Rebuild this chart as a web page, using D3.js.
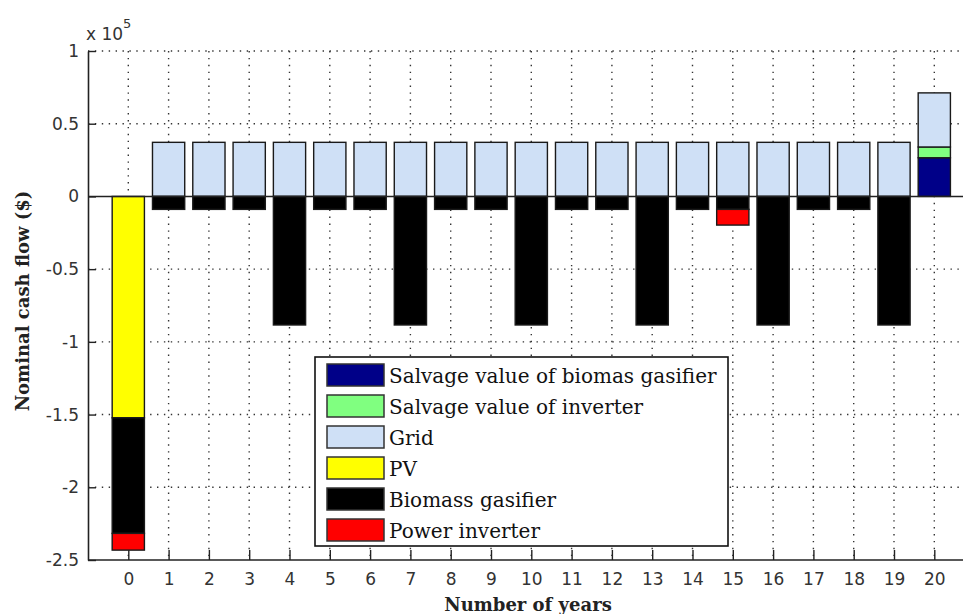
<!DOCTYPE html>
<html>
<head>
<meta charset="utf-8">
<script src="https://cdn.jsdelivr.net/npm/d3@7"></script>
<style>
  html, body { margin: 0; padding: 0; background: #fff; }
  svg { display: block; }
</style>
</head>
<body>
<svg id="chart" width="963" height="614"></svg>
<script>
// Nominal cash flow by year and cost component (US$)
const years = [0, 1, 2, 3, 4, 5, 6, 7, 8, 9, 10, 11, 12, 13, 14, 15, 16, 17, 18, 19, 20];
const salvageBiomass  = [0, 0, 0, 0, 0, 0, 0, 0, 0, 0, 0, 0, 0, 0, 0, 0, 0, 0, 0, 0, 26600];
const salvageInverter = [0, 0, 0, 0, 0, 0, 0, 0, 0, 0, 0, 0, 0, 0, 0, 0, 0, 0, 0, 0, 7400];
const gridFlow = [0, 37200, 37200, 37200, 37200, 37200, 37200, 37200, 37200, 37200, 37200,
                  37200, 37200, 37200, 37200, 37200, 37200, 37200, 37200, 37200, 37200];
const pvFlow = [-152200, 0, 0, 0, 0, 0, 0, 0, 0, 0, 0, 0, 0, 0, 0, 0, 0, 0, 0, 0, 0];
const biomassFlow = [-79500, -8900, -8900, -8900, -88400, -8900, -8900, -88400, -8900, -8900, -88400,
                     -8900, -8900, -88400, -8900, -8900, -88400, -8900, -8900, -88400, 0];
const inverterFlow = [-11500, 0, 0, 0, 0, 0, 0, 0, 0, 0, 0, 0, 0, 0, 0, -10800, 0, 0, 0, 0, 0];

const seriesNames = ["Salvage value of biomas gasifier", "Salvage value of inverter", "Grid",
                     "PV", "Biomass gasifier", "Power inverter"];
const seriesColors = ["#000088", "#80ff80", "#cfe0f6", "#ffff00", "#000000", "#ff0000"];
const seriesValues = [salvageBiomass, salvageInverter, gridFlow, pvFlow, biomassFlow, inverterFlow];

const yTicks = [100000, 50000, 0, -50000, -100000, -150000, -200000, -250000];
const yTickLabels = ["1", "0.5", "0", "-0.5", "-1", "-1.5", "-2", "-2.5"];

const svg = d3.select("#chart");

// plot box (axes run past the right edge of the page)
const plotLeft = 88, plotTop = 51, plotBottom = 560, pageRight = 963;
const step = 40.3;
const x = d3.scaleLinear().domain([-1, 21]).range([plotLeft, plotLeft + 22 * step]);
const y = d3.scaleLinear().domain([-250000, 100000]).range([plotBottom, plotTop]);
const barW = 0.8 * step;

// build rows for the stack
const rows = years.map((yr, i) => {
  const r = { year: yr };
  seriesNames.forEach((n, k) => { r[n] = seriesValues[k][i]; });
  return r;
});
const stacked = d3.stack().keys(seriesNames).offset(d3.stackOffsetDiverging)(rows);

// dotted grid
const gridG = svg.append("g").attr("stroke", "#333").attr("stroke-width", 1.4)
  .attr("stroke-dasharray", "1.4,5.5").attr("fill", "none");
gridG.selectAll("line.v").data(years).join("line").attr("class", "v")
  .attr("x1", d => x(d)).attr("x2", d => x(d))
  .attr("y1", plotTop).attr("y2", plotBottom);
gridG.selectAll("line.h").data(yTicks.filter(v => v !== 0 && v !== -250000)).join("line").attr("class", "h")
  .attr("x1", plotLeft).attr("x2", pageRight)
  .attr("y1", d => y(d)).attr("y2", d => y(d));

// bars
const barG = svg.append("g");
stacked.forEach((layer, k) => {
  barG.append("g")
    .attr("fill", seriesColors[k])
    .attr("stroke", "#1a1a1a")
    .attr("stroke-width", 1.4)
    .selectAll("rect")
    .data(layer.filter(d => d[1] !== d[0]))
    .join("rect")
    .attr("x", d => x(d.data.year) - barW / 2)
    .attr("width", barW)
    .attr("y", d => y(Math.max(d[0], d[1])))
    .attr("height", d => Math.abs(y(d[0]) - y(d[1])));
});

// zero baseline
svg.append("line")
  .attr("x1", plotLeft).attr("x2", pageRight)
  .attr("y1", y(0)).attr("y2", y(0))
  .attr("stroke", "#222").attr("stroke-width", 1.4);

// axes
const xAxis = d3.axisBottom(x).tickValues(years).tickSizeInner(-10).tickSizeOuter(0).tickPadding(13);
const gx = svg.append("g").attr("transform", `translate(0,${plotBottom})`).call(xAxis);
const yAxis = d3.axisLeft(y).tickValues(yTicks).tickSizeInner(-8).tickSizeOuter(0)
  .tickPadding(9).tickFormat((d, i) => yTickLabels[i]);
const gy = svg.append("g").attr("transform", `translate(${plotLeft},0)`).call(yAxis);

[gx, gy].forEach(g => {
  g.select(".domain").attr("stroke", "#222").attr("stroke-width", 1.6);
  g.selectAll(".tick line").attr("stroke", "#222").attr("stroke-width", 1.4);
  g.selectAll(".tick text")
    .attr("font-family", "DejaVu Sans, sans-serif")
    .attr("font-size", 17)
    .attr("fill", "#333");
});
gx.select(".domain").attr("d", `M${plotLeft},0H${pageRight}`);

// exponent label
const expo = svg.append("text")
  .attr("x", 86).attr("y", 40)
  .attr("font-family", "DejaVu Sans, sans-serif")
  .attr("font-size", 17).attr("fill", "#333");
expo.append("tspan").text("x 10");
expo.append("tspan").attr("dy", -12).attr("font-size", 13).text("5");

// axis titles
svg.append("text")
  .attr("transform", "translate(29,301) rotate(-90)")
  .attr("text-anchor", "middle")
  .attr("font-family", "DejaVu Serif, serif")
  .attr("font-weight", "bold")
  .attr("font-size", 18)
  .attr("fill", "#222")
  .text("Nominal cash flow ($)");

svg.append("text")
  .attr("x", 528).attr("y", 611)
  .attr("text-anchor", "middle")
  .attr("font-family", "DejaVu Serif, serif")
  .attr("font-weight", "bold")
  .attr("font-size", 18)
  .attr("fill", "#222")
  .text("Number of years");

// legend
const lg = svg.append("g").attr("transform", "translate(315,357)");
lg.append("rect").attr("width", 413).attr("height", 189)
  .attr("fill", "#fff").attr("stroke", "#111").attr("stroke-width", 1.6);
const item = lg.selectAll("g.item").data(seriesNames).join("g").attr("class", "item")
  .attr("transform", (d, i) => `translate(12,${7 + i * 31})`);
item.append("rect").attr("width", 57).attr("height", 22)
  .attr("fill", (d, i) => seriesColors[i]).attr("stroke", "#333").attr("stroke-width", 1.5);
item.append("text").attr("x", 62).attr("y", 19)
  .attr("font-family", "DejaVu Serif, serif")
  .attr("font-size", 20)
  .attr("fill", "#111")
  .text(d => d);
</script>
</body>
</html>
